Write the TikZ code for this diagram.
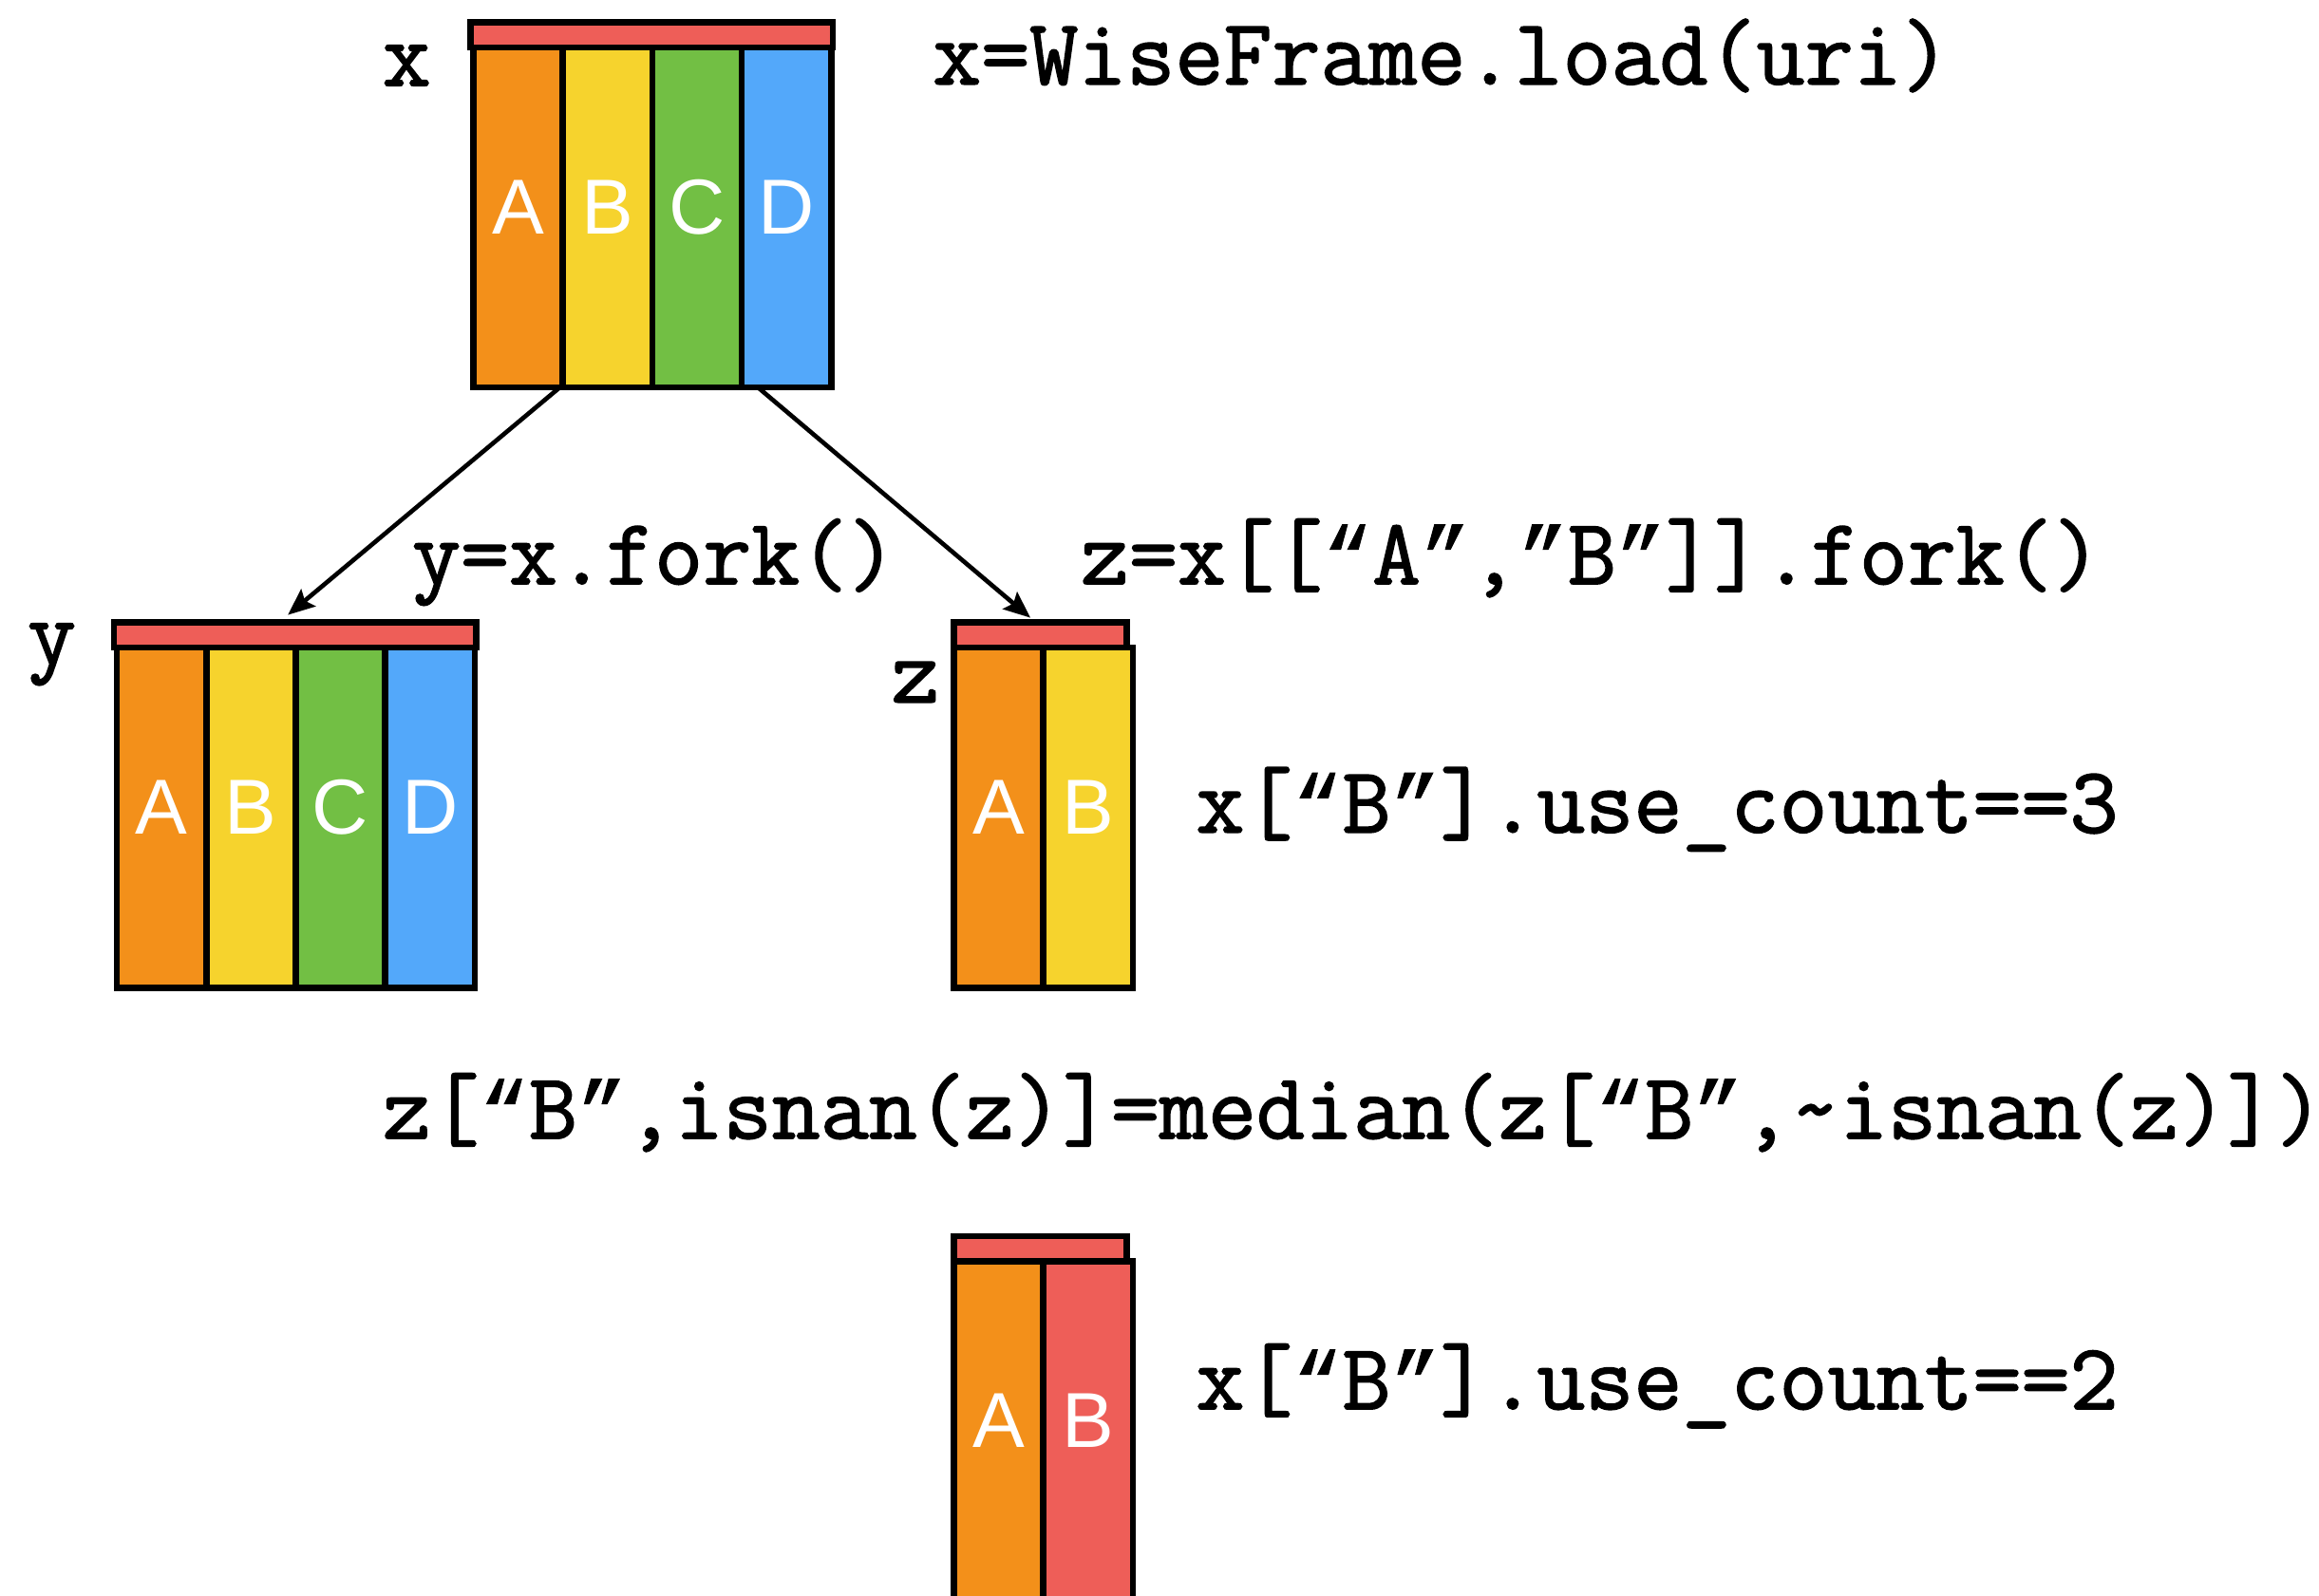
\documentclass[tikz,border=0pt]{standalone}
\usepackage{fontspec}
\setmainfont{Liberation Sans}
\newfontfamily\codefont[FakeBold=1.6]{Latin Modern Mono}
\newfontfamily\quotefont[FakeBold=1]{Liberation Mono}
\usetikzlibrary{positioning,arrows.meta}
\definecolor{colorange}{RGB}{243, 144, 26}
\definecolor{colyellow}{RGB}{246, 211, 45}
\definecolor{colgreen}{RGB}{114, 191, 68}
\definecolor{colblue}{RGB}{83, 168, 250}
\definecolor{colred}{RGB}{238, 94, 88}
\newcommand{\qopen}{{\quotefont\fontsize{15.8}{20}\selectfont “}}
\newcommand{\qclose}{{\quotefont\fontsize{15.8}{20}\selectfont ”}}

\begin{document}
\begin{tikzpicture}[x=0.1mm, y=-0.1mm,
    col/.style={rectangle, draw=black, line width=1.2pt, anchor=north west, inner sep=0pt, outer sep=0pt,
        minimum width=6.05mm, minimum height=23mm, text=white, text depth=1.4mm, font=\fontsize{15}{18}\selectfont},
    hdr/.style={rectangle, draw=black, line width=1.2pt, fill=colred, anchor=north west, inner sep=0pt, outer sep=0pt,
        minimum height=1.7mm},
    code/.style={anchor=base west, inner sep=0pt, font=\codefont\fontsize{18.1}{20}\selectfont},
    lbl/.style={anchor=base, inner sep=0pt, font=\codefont\fontsize{18.1}{20}\selectfont},
    fork/.style={-{Stealth[length=1.8mm, width=1.5mm, inset=0.3mm]}, line width=0.85pt}]
  \useasboundingbox (0,0) rectangle (1568,1079);
  \clip (0,0) rectangle (1568,1079);

  \node[col, fill=colorange] (xA) at (320,32) {A};
  \node[col, fill=colyellow, right=0pt of xA] (xB) {B};
  \node[col, fill=colgreen, right=0pt of xB] (xC) {C};
  \node[col, fill=colblue, right=0pt of xC] (xD) {D};
  \node[hdr, minimum width=24.5mm] (xhead) at (318,15) {};
  \node[lbl] (xname) at (275,58) {x};
  \node[code] (xcode) at (630,57) {x=WiseFrame.load(uri)};

  \node[col, fill=colorange] (yA) at (79,438) {A};
  \node[col, fill=colyellow, right=0pt of yA] (yB) {B};
  \node[col, fill=colgreen, right=0pt of yB] (yC) {C};
  \node[col, fill=colblue, right=0pt of yC] (yD) {D};
  \node[hdr, minimum width=24.5mm] (yhead) at (77,421) {};
  \node[lbl] (yname) at (35,449) {y};
  \node[code] (ycode) at (278,395) {y=x.fork()};

  \node[col, fill=colorange] (zA) at (645,438) {A};
  \node[col, fill=colyellow, right=0pt of zA] (zB) {B};
  \node[hdr, minimum width=11.7mm] (zhead) at (645,421) {};
  \node[lbl] (zname) at (619,475) {z};
  \node[code] (zcode) at (730,395) {z=x[[\qopen A\qclose,\qclose B\qclose]].fork()};
  \node[code] (count3) at (808,563) {x[\qopen B\qclose].use\_count==3};

  \node[code] (fill) at (258,770) {z[\qopen B\qclose,isnan(z)]=median(z[\qopen B\qclose,\textasciitilde isnan(z)])};

  \node[col, fill=colorange] (wA) at (645,853) {A};
  \node[col, fill=colred, right=0pt of wA] (wB) {B};
  \node[hdr, minimum width=11.7mm] (whead) at (645,836) {};
  \node[code] (count2) at (808,953) {x[\qopen B\qclose].use\_count==2};

  \draw[fork, shorten >=0.8mm] ([xshift=-0.2mm]xA.south east) -- ([xshift=-1.1mm]yhead.north);
  \draw[fork, shorten >=0.5mm] ([xshift=1.1mm]xD.south west) -- ([xshift=-0.3mm]zhead.north);
\end{tikzpicture}
\end{document}
